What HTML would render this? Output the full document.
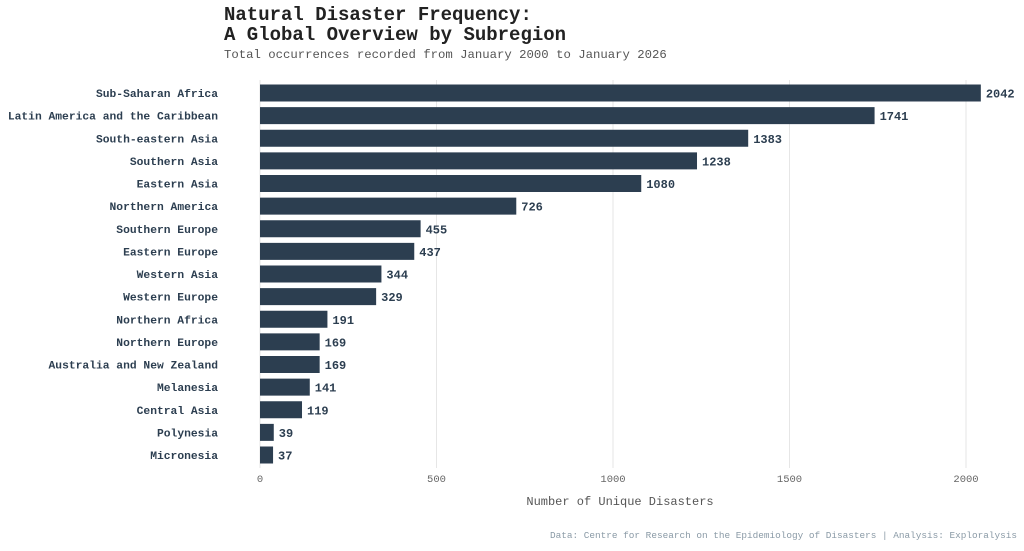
<!DOCTYPE html>
<html><head><meta charset="utf-8"><style>
body{margin:0;background:#fff;width:1024px;height:546px;overflow:hidden;font-family:"Liberation Mono",monospace}
svg text{font-family:"Liberation Mono",monospace}
</style></head><body>
<svg id="chart" width="1024" height="546" xmlns="http://www.w3.org/2000/svg">
<text x="224" y="20" font-size="19" font-weight="bold" fill="#222">Natural Disaster Frequency:</text>
<text x="224" y="40" font-size="19" font-weight="bold" fill="#222">A Global Overview by Subregion</text>
<text x="224" y="58" font-size="12.3" fill="#555">Total occurrences recorded from January 2000 to January 2026</text>
<g id="grid"></g><g id="bars"></g>
<text x="620" y="505" font-size="12" fill="#555" text-anchor="middle">Number of Unique Disasters</text>
<text x="1017" y="538" font-size="9.4" fill="#8a9aa6" text-anchor="end">Data: Centre for Research on the Epidemiology of Disasters | Analysis: Exploralysis</text>
</svg>
<script>
const categories=["Sub-Saharan Africa","Latin America and the Caribbean","South-eastern Asia","Southern Asia","Eastern Asia","Northern America","Southern Europe","Eastern Europe","Western Asia","Western Europe","Northern Africa","Northern Europe","Australia and New Zealand","Melanesia","Central Asia","Polynesia","Micronesia"];
const values=[2042,1741,1383,1238,1080,726,455,437,344,329,191,169,169,141,119,39,37];
const ticks=[0,500,1000,1500,2000];
const NS="http://www.w3.org/2000/svg";
const x=v=>260+v*706/2000;
const y=i=>93+i*22.625;
function mk(t,a,p){const e=document.createElementNS(NS,t);for(const k in a)e.setAttribute(k,a[k]);p.appendChild(e);return e;}
const grid=document.getElementById('grid'),bars=document.getElementById('bars');
ticks.forEach(t=>{
 const l=mk('line',{x1:x(t),x2:x(t),y1:80,y2:468,stroke:'#e6e6e6','stroke-width':1},grid);
 
 
 const tx=mk('text',{x:x(t),y:482,'font-size':10.5,fill:'#666','text-anchor':'middle'},grid);
 tx.textContent=t;
 
 
});
categories.forEach((c,i)=>{
 const r=mk('rect',{x:x(0),y:y(i)-8.5,width:x(values[i])-x(0),height:17,fill:'#2c3e50'},bars);
 
 
 const lb=mk('text',{x:218,y:y(i)+4,'font-size':11.3,'font-weight':'bold',fill:'#2c3e50','text-anchor':'end'},bars);
 lb.textContent=c;
 
 
 const v=mk('text',{x:x(values[i])+5,y:y(i)+4.5,'font-size':12,'font-weight':'bold',fill:'#2c3e50'},bars);
 v.textContent=values[i];
 
 
});
</script>
</body></html>
